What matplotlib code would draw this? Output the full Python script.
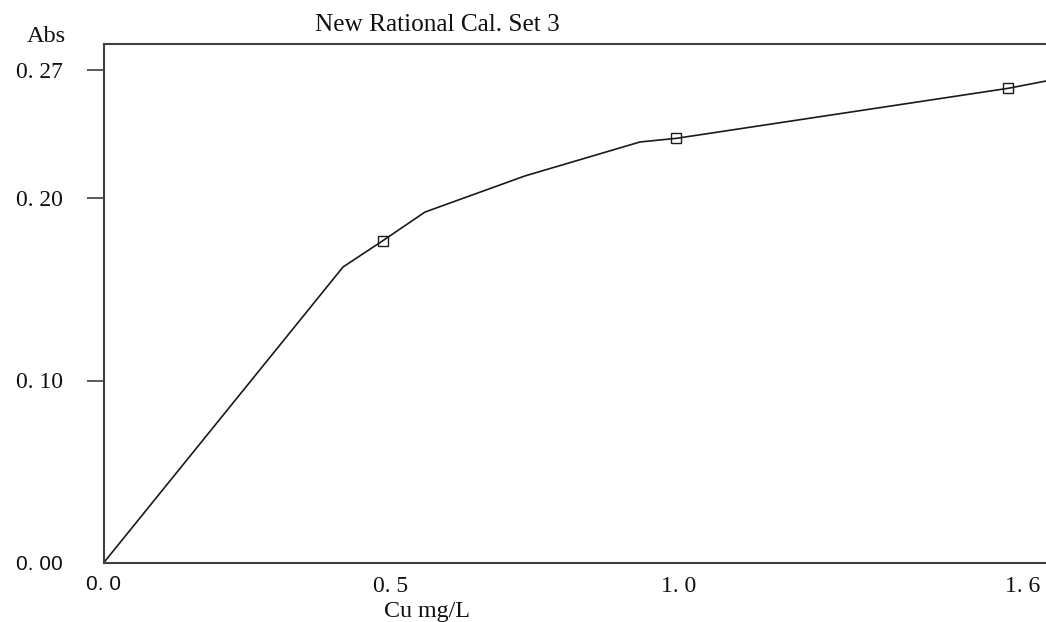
import numpy as np
import matplotlib.pyplot as plt

# calibration curve (polyline) and standards
curve_x = [0.0, 0.4168, 0.486, 0.5594, 0.7334, 0.9335, 0.997, 1.574, 1.66]
curve_y = [0.0, 0.1622, 0.1766, 0.1923, 0.2121, 0.2307, 0.2327, 0.2601, 0.2653]
std_x = [0.486, 0.997, 1.574]
std_y = [0.1766, 0.2327, 0.2601]

xticks = [0.0, 0.5, 1.0, 1.6]
xlabels = ['0. 0', '0. 5', '1. 0', '1. 6']
yticks = [0.0, 0.10, 0.20, 0.27]
ylabels = ['0. 00', '0. 10', '0. 20', '0. 27']

W, H = 1046, 622
left, bottom, top = 103.5, 563, 44
fig = plt.figure(figsize=(W / 100, H / 100), dpi=100)
ax = fig.add_axes([left / W, (H - bottom) / H, 1 - left / W, (bottom - top) / H])

ax.plot(curve_x, curve_y, color='#1a1a1a', lw=1.2)
ax.plot(std_x, std_y, ls='none', marker='s', ms=7, mfc='none', mec='#1a1a1a', mew=1.0)

ax.set_xlim(0, (W - left) / 574.7)
ax.set_ylim(0, (bottom - top) / 1825)

for s in ['left', 'top', 'bottom']:
    ax.spines[s].set_color('#404040')
    ax.spines[s].set_linewidth(1.5)
ax.spines['right'].set_visible(False)

ax.set_xticks(xticks)
ax.set_xticklabels(xlabels)
ax.set_yticks(yticks)
ax.set_yticklabels(ylabels)
ax.tick_params(axis='x', length=0, pad=9)
ax.tick_params(axis='y', length=12, width=1.2, color='#404040', pad=17)
ax.yaxis.get_major_ticks()[0].tick1line.set_visible(False)

for lab in ax.get_xticklabels() + ax.get_yticklabels():
    lab.set_fontfamily('Liberation Serif')
    lab.set_fontsize(17)
    lab.set_color('#101010')
# the zero labels look like a sans face in the original
for lab in [ax.get_xticklabels()[0], ax.get_yticklabels()[0]]:
    lab.set_fontfamily('Liberation Sans')
    lab.set_fontsize(15)

fig.text(315 / W, 1 - 31 / H, 'New Rational Cal. Set 3', family='Liberation Serif',
         fontsize=18.2, va='baseline', ha='left', color='#101010')
fig.text(27 / W, 1 - 42 / H, 'Abs', family='Liberation Serif',
         fontsize=17.5, va='baseline', ha='left', color='#101010')
fig.text(427 / W, (H - 617) / H, 'Cu mg/L', family='Liberation Serif',
         fontsize=17.3, va='baseline', ha='center', color='#101010')

fig.savefig('out.png', dpi=100)
